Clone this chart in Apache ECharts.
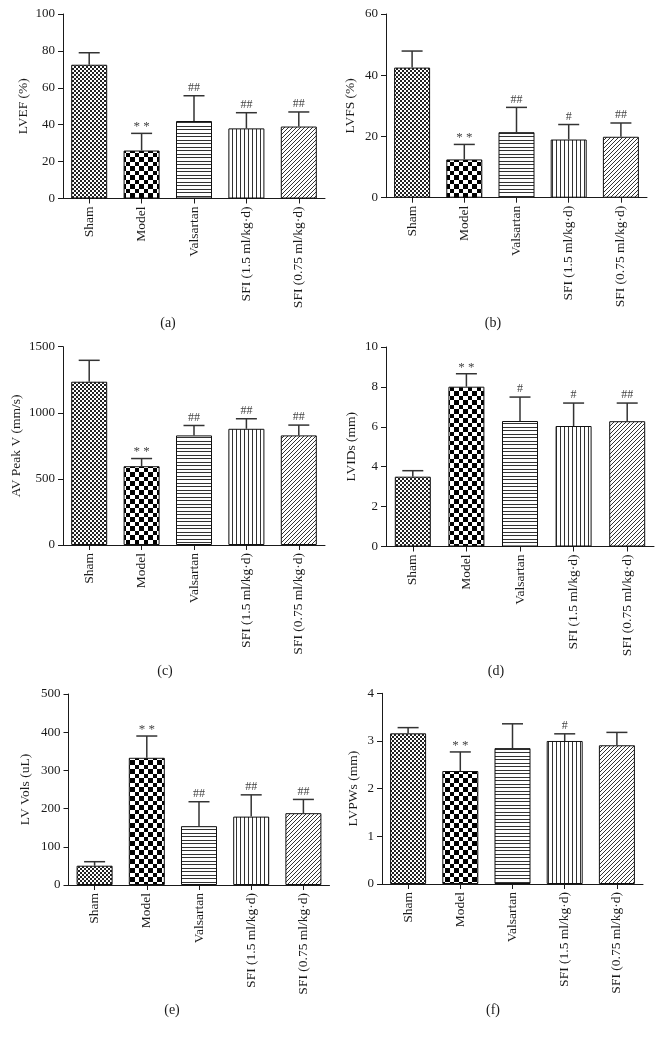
<!DOCTYPE html>
<html>
<head>
<meta charset="utf-8">
<script src="https://cdn.jsdelivr.net/npm/echarts@6/dist/echarts.min.js"></script>
<style>
html,body{margin:0;padding:0;background:#fff;}
#chart{width:663px;height:1037px;}
</style>
</head>
<body>
<div id="chart"></div>
<script>
// ---- Data ----
const categories = ['Sham', 'Model', 'Valsartan', 'SFI (1.5 ml/kg·d)', 'SFI (0.75 ml/kg·d)'];

const lvefMean = [72.5, 26, 42, 38, 39];
const lvefSD   = [6.5, 9.3, 13.7, 8.5, 7.9];
const lvefSig  = ['', '**', '##', '##', '##'];

const lvfsMean = [42.5, 12.5, 21.4, 19.0, 19.9];
const lvfsSD   = [5.4, 4.9, 8.1, 4.9, 4.5];
const lvfsSig  = ['', '**', '##', '#', '##'];

const avMean = [1235, 596, 829, 879, 829];
const avSD   = [162, 58, 75, 76, 78];
const avSig  = ['', '**', '##', '##', '##'];

const lvidsMean = [3.5, 8.01, 6.29, 6.04, 6.28];
const lvidsSD   = [0.3, 0.65, 1.2, 1.15, 0.91];
const lvidsSig  = ['', '**', '#', '#', '##'];

const lvvolsMean = [50.5, 333, 154, 179, 188];
const lvvolsSD   = [10.5, 57, 64, 57, 36];
const lvvolsSig  = ['', '**', '##', '##', '##'];

const lvpwsMean = [3.16, 2.37, 2.85, 3.0, 2.91];
const lvpwsSD   = [0.12, 0.4, 0.51, 0.15, 0.27];
const lvpwsSig  = ['', '**', '', '#', ''];

const axisNames = ['LVEF (%)', 'LVFS (%)', 'AV Peak V (mm/s)', 'LVIDs (mm)', 'LV Vols (uL)', 'LVPWs (mm)'];
const axisMax = [100, 60, 1500, 10, 500, 4];
const axisInterval = [20, 20, 500, 2, 100, 1];
const captions = ['(a)', '(b)', '(c)', '(d)', '(e)', '(f)'];

const panels = [
  {mean: lvefMean, sd: lvefSD, sig: lvefSig},
  {mean: lvfsMean, sd: lvfsSD, sig: lvfsSig},
  {mean: avMean, sd: avSD, sig: avSig},
  {mean: lvidsMean, sd: lvidsSD, sig: lvidsSig},
  {mean: lvvolsMean, sd: lvvolsSD, sig: lvvolsSig},
  {mean: lvpwsMean, sd: lvpwsSD, sig: lvpwsSig}
];

// ---- Layout ----
const grids = [
  {left: 63, top: 14, width: 262, height: 184.5},
  {left: 386, top: 14, width: 261, height: 183.7},
  {left: 63, top: 346.7, width: 262, height: 198.3},
  {left: 386, top: 347, width: 268, height: 199.5},
  {left: 68.5, top: 694, width: 261, height: 191},
  {left: 382, top: 693.3, width: 261, height: 190.7}
];
const nameGaps = [33, 29, 40, 28, 36, 22];
const captionPos = [[168, 323], [493, 323], [165, 671], [496, 671], [172, 1010], [493, 1010]];

const FONT = '"Liberation Serif", "DejaVu Serif", serif';
const INK = '#1a1a1a';

// ---- Patterns ----
function pat(w, h, draw) {
  const c = document.createElement('canvas');
  c.width = w; c.height = h;
  const g = c.getContext('2d');
  g.fillStyle = '#fff';
  g.fillRect(0, 0, w, h);
  g.fillStyle = '#222';
  draw(g);
  return {image: c, repeat: 'repeat'};
}
const patterns = [
  pat(4, 4, g => { g.fillRect(0, 0, 2, 2); g.fillRect(2, 2, 2, 2); }),
  pat(9, 9, g => { g.fillStyle = '#000'; g.fillRect(0, 0, 4, 4); g.fillRect(4, 4, 5, 5); }),
  pat(4, 7, g => { g.fillStyle = '#333'; g.fillRect(0, 0, 4, 1); g.fillRect(0, 3, 4, 1); }),
  pat(4, 4, g => { g.fillStyle = '#333'; g.fillRect(0, 0, 1, 4); }),
  pat(4, 4, g => { g.fillStyle = '#333'; g.fillRect(3, 0, 1, 1); g.fillRect(2, 1, 1, 1); g.fillRect(1, 2, 1, 1); g.fillRect(0, 3, 1, 1); })
];

// ---- Build option ----
const option = {
  animation: false,
  backgroundColor: '#fff',
  grid: [], xAxis: [], yAxis: [], series: [],
  graphic: []
};

panels.forEach((p, i) => {
  option.grid.push(Object.assign({containLabel: false}, grids[i]));
  option.xAxis.push({
    type: 'category', gridIndex: i, data: categories,
    axisLine: {show: true, lineStyle: {color: INK, width: 1}},
    axisTick: {show: true, alignWithLabel: true, length: 5, lineStyle: {color: INK}},
    axisLabel: {rotate: 90, margin: 8, fontFamily: FONT, fontSize: 13.5, color: INK, interval: 0},
    splitLine: {show: false}
  });
  option.yAxis.push({
    type: 'value', gridIndex: i, min: 0, max: axisMax[i], interval: axisInterval[i],
    name: axisNames[i], nameLocation: 'middle', nameGap: nameGaps[i],
    nameTextStyle: {fontFamily: FONT, fontSize: 13.5, color: INK},
    axisLine: {show: true, lineStyle: {color: INK, width: 1}},
    axisTick: {show: true, length: 5, lineStyle: {color: INK}},
    axisLabel: {margin: 8, fontFamily: FONT, fontSize: 13, color: INK, formatter: v => String(v)},
    splitLine: {show: false}
  });
  option.series.push({
    type: 'bar', xAxisIndex: i, yAxisIndex: i, barWidth: 36,
    data: p.mean.map((v, k) => ({value: v, itemStyle: {color: patterns[k], borderColor: '#111', borderWidth: 1}})),
    z: 2
  });
  const sig = p.sig;
  option.series.push({
    type: 'custom', xAxisIndex: i, yAxisIndex: i, z: 5,
    data: p.mean.map((v, k) => [k, v, v + p.sd[k]]),
    renderItem: function (params, api) {
      const base = api.coord([api.value(0), api.value(1)]);
      const top = api.coord([api.value(0), api.value(2)]);
      const hw = 10.5;
      const st = {stroke: '#333', lineWidth: 1.5};
      const children = [
        {type: 'line', shape: {x1: base[0], y1: base[1], x2: top[0], y2: top[1]}, style: st},
        {type: 'line', shape: {x1: top[0] - hw, y1: top[1], x2: top[0] + hw, y2: top[1]}, style: st}
      ];
      const s = sig[params.dataIndex];
      if (s) {
        const isStar = s.indexOf('*') >= 0;
        children.push({
          type: 'text', x: top[0], y: top[1] - (isStar ? 0 : 2),
          style: {text: isStar ? '* *' : s, fill: '#444', font: (isStar ? '13px ' : '12px ') + FONT, textAlign: 'center', textVerticalAlign: 'bottom'}
        });
      }
      return {type: 'group', children: children};
    }
  });
  option.graphic.push({
    type: 'text', x: captionPos[i][0], y: captionPos[i][1],
    style: {text: captions[i], fill: INK, font: '14px ' + FONT, textAlign: 'center', textVerticalAlign: 'middle'}
  });
});

const chart = echarts.init(document.getElementById('chart'), null, {renderer: 'canvas'});
chart.setOption(option);
</script>
</body>
</html>
